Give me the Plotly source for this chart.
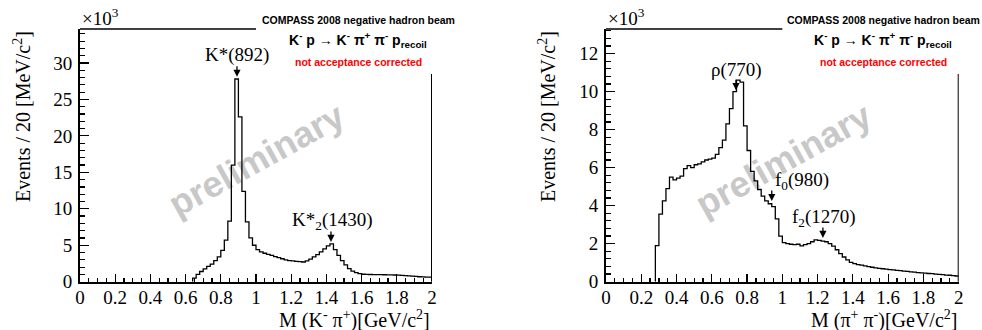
import numpy as np
import plotly.graph_objects as go

# ---------------- data (events per 20 MeV bin, in units of 10^3) ----------------
bin_width = 0.02
kpi_first_bin = 0.64
kpi_counts = [0.5, 1.0, 1.4, 1.75, 2.1, 2.4, 2.9, 3.4, 4.3, 5.7,
              8.3, 16.0, 27.8, 22.6, 12.4, 8.2, 6.0, 5.0,
              4.4, 4.1, 3.9, 3.75, 3.6, 3.45, 3.3, 3.15, 3.0, 2.9,
              2.85, 2.8, 2.75, 2.7, 2.85, 3.1, 3.4, 3.7, 4.1, 4.5,
              4.9, 5.2, 4.4, 3.6, 2.9, 2.3, 1.8, 1.45, 1.25, 1.1,
              1.02, 1.0, 0.99, 0.98, 0.97, 0.96, 0.95, 0.94, 0.93, 0.92,
              0.9, 0.87, 0.84, 0.8, 0.76, 0.72, 0.68, 0.65, 0.63, 0.62]
pipi_first_bin = 0.28
pipi_counts = [1.9, 3.55, 4.25, 4.9, 5.5, 5.35, 5.45, 5.55, 5.95, 6.1,
               6.0, 6.15, 6.2, 6.3, 6.4, 6.45, 6.5, 6.7, 7.05, 7.45,
               8.3, 9.1, 10.0, 10.6, 10.5, 8.2, 6.9, 5.8, 5.3, 4.85,
               4.5, 4.25, 4.1, 3.95, 3.3, 2.4,
               2.05, 2.0, 1.97, 1.95, 1.97, 1.88, 1.95, 2.0, 2.1, 2.2,
               2.17, 2.13, 2.1, 2.0, 1.87, 1.68, 1.48, 1.3, 1.15, 1.02,
               0.95, 0.9, 0.87, 0.83, 0.79, 0.76, 0.73, 0.7, 0.68, 0.66,
               0.64, 0.62, 0.6, 0.58, 0.56, 0.54, 0.52, 0.5, 0.48, 0.46,
               0.45, 0.43, 0.42, 0.4, 0.38, 0.37, 0.35, 0.34, 0.32, 0.3]

x_ticks = [0, 0.2, 0.4, 0.6, 0.8, 1.0, 1.2, 1.4, 1.6, 1.8, 2.0]
x_tick_labels = ["0", "0.2", "0.4", "0.6", "0.8", "1", "1.2", "1.4", "1.6", "1.8", "2"]
left_y_ticks = [0, 5, 10, 15, 20, 25, 30]
right_y_ticks = [0, 2, 4, 6, 8, 10, 12]

left_resonances = [("K*(892)", 0.892, 28.1), ("K*<sub>2</sub>(1430)", 1.426, 5.45)]
right_resonances = [("ρ(770)", 0.737, 10.07), ("f<sub>0</sub>(980)", 0.94, 4.24),
                    ("f<sub>2</sub>(1270)", 1.23, 2.3)]

# ---------------- helpers ----------------
W, H = 982, 330
SERIF = "Liberation Serif"
SANS = "Liberation Sans"


def px(xp):
    return xp / W


def py(yp):
    return 1 - yp / H


def step_xy(first, counts):
    edges = first + bin_width * np.arange(len(counts) + 1)
    x = np.concatenate([[edges[0]], edges])
    y = np.concatenate([[0.0], counts, [counts[-1]]])
    return x, y


fig = go.Figure()
for first, counts, xa, ya in [(kpi_first_bin, kpi_counts, "x", "y"),
                              (pipi_first_bin, pipi_counts, "x2", "y2")]:
    hx, hy = step_xy(first, counts)
    fig.add_trace(go.Scatter(x=hx, y=hy, mode="lines", line=dict(shape="hv", color="black", width=1.3),
                             xaxis=xa, yaxis=ya, showlegend=False, hoverinfo="skip"))

ydom = [py(281.7), py(29)]
axis_common = dict(showgrid=False, zeroline=False, showline=True, linecolor="black", linewidth=2,
                   ticks="inside", tickcolor="black", tickwidth=1.2,
                   tickfont=dict(family=SERIF, size=19, color="black"), automargin=False)

fig.update_layout(
    width=W, height=H, margin=dict(l=0, r=0, t=0, b=0),
    paper_bgcolor="white", plot_bgcolor="white", showlegend=False, hovermode=False,
    xaxis=dict(domain=[px(80), px(432)], range=[0, 2], tickvals=x_ticks, ticktext=x_tick_labels,
               ticklen=8, anchor="y", ticklabelstandoff=-3,
               minor=dict(tickmode="linear", tick0=0, dtick=0.05, ticklen=4, ticks="inside", tickcolor="black"),
               **axis_common),
    yaxis=dict(domain=ydom, range=[0, 34.66], tickvals=left_y_ticks, ticklen=9, anchor="x",
               ticklabelstandoff=2,
               minor=dict(tickmode="linear", tick0=0, dtick=1, ticklen=5, ticks="inside", tickcolor="black"),
               **axis_common),
    xaxis2=dict(domain=[px(606), px(958.7)], range=[0, 2], tickvals=x_ticks, ticktext=x_tick_labels,
                ticklen=8, anchor="y2", ticklabelstandoff=-3,
                minor=dict(tickmode="linear", tick0=0, dtick=0.05, ticklen=4, ticks="inside", tickcolor="black"),
                **axis_common),
    yaxis2=dict(domain=ydom, range=[0, 13.29], tickvals=right_y_ticks, ticklen=9, anchor="x2",
                ticklabelstandoff=2,
                minor=dict(tickmode="linear", tick0=0, dtick=0.4, ticklen=5, ticks="inside", tickcolor="black"),
                **axis_common),
)

shapes = []
annotations = []
panels = [
    dict(xa="x", ya="y", x0=80, xr=432, center=358, res=left_resonances,
         xtitle="M (K<sup>-</sup> π<sup>+</sup>)[GeV/c<sup>2</sup>]", ytitle_x=22, mark_c=255),
    dict(xa="x2", ya="y2", x0=606, xr=958.7, center=883, res=right_resonances,
         xtitle="M (π<sup>+</sup> π<sup>-</sup>)[GeV/c<sup>2</sup>]", ytitle_x=547, mark_c=782),
]
for p in panels:
    # remaining frame: top line to x=1, right line up to the info box
    shapes.append(dict(type="line", xref=p["xa"], yref=p["ya"] + " domain", x0=0, x1=1.0, y0=1, y1=1,
                       line=dict(color="black", width=1.5)))
    shapes.append(dict(type="line", xref=p["xa"], yref=p["ya"] + " domain", x0=2.0, x1=2.0, y0=0,
                       y1=(281.7 - 74) / (281.7 - 29), line=dict(color="black", width=2)))
    # watermark
    cx, cy = p["mark_c"], 157
    shapes.append(dict(type="rect", xref="paper", yref="paper", x0=px(cx - 5), x1=px(cx + 5),
                       y0=py(cy + 5), y1=py(cy - 5), line=dict(width=0), fillcolor="rgba(0,0,0,0)",
                       layer="below",
                       label=dict(text="<b>preliminary</b>", textangle=-29, textposition="middle center",
                                  font=dict(family=SANS, size=36, color="#c8c8c8"))))
    # info box text
    annotations.append(dict(xref="paper", yref="paper", x=px(p["center"]), y=py(20), xanchor="center",
                            yanchor="middle", showarrow=False,
                            text="<b>COMPASS 2008 negative hadron beam</b>",
                            font=dict(family=SANS, size=10.5, color="black")))
    annotations.append(dict(xref="paper", yref="paper", x=px(p["center"]), y=py(40), xanchor="center",
                            yanchor="middle", showarrow=False,
                            text="<b>K<sup>-</sup> p → K<sup>-</sup> π<sup>+</sup> π<sup>-</sup> p<sub>recoil</sub></b>",
                            font=dict(family=SANS, size=14, color="black")))
    annotations.append(dict(xref="paper", yref="paper", x=px(p["center"]), y=py(62), xanchor="center",
                            yanchor="middle", showarrow=False,
                            text="<b>not acceptance corrected</b>",
                            font=dict(family=SANS, size=10.5, color="#ff0000")))
    # ×10^3
    annotations.append(dict(xref="paper", yref="paper", x=px(p["x0"]), y=py(17), xanchor="left",
                            yanchor="middle", showarrow=False, text="×10<sup>3</sup>",
                            font=dict(family=SERIF, size=19, color="black")))
    # axis titles
    annotations.append(dict(xref="paper", yref="paper", x=px(p["ytitle_x"]), y=py(117), xanchor="center",
                            yanchor="middle", showarrow=False, textangle=-90,
                            text="Events / 20 [MeV/c<sup>2</sup>]",
                            font=dict(family=SERIF, size=20, color="black")))
    annotations.append(dict(xref="paper", yref="paper", x=px(p["xr"]), y=py(319), xanchor="right",
                            yanchor="middle", showarrow=False, text=p["xtitle"],
                            font=dict(family=SERIF, size=20, color="black")))
    # resonance arrows
    for name, xm, ytip in p["res"]:
        annotations.append(dict(xref=p["xa"], yref=p["ya"], x=xm, y=ytip, ax=0, ay=-12, text="",
                                showarrow=True, arrowhead=2, arrowsize=1.1, arrowwidth=1.3,
                                arrowcolor="black"))

label_pos = [("K*(892)", 237, 55), ("K*<sub>2</sub>(1430)", 332, 221),
             ("ρ(770)", 736, 70), ("f<sub>0</sub>(980)", 801.7, 181),
             ("f<sub>2</sub>(1270)", 823.5, 218)]
for name, xp_, yp_ in label_pos:
    annotations.append(dict(xref="paper", yref="paper", x=px(xp_), y=py(yp_), xanchor="center",
                            yanchor="middle", showarrow=False, text=name,
                            font=dict(family=SERIF, size=19, color="black")))

fig.update_layout(shapes=shapes, annotations=annotations)
fig.write_html("out.html", config={"displayModeBar": False, "staticPlot": True},
               post_script="document.body.style.margin='0';document.body.style.padding='0';"
                           "window.dispatchEvent(new Event('resize'));")
